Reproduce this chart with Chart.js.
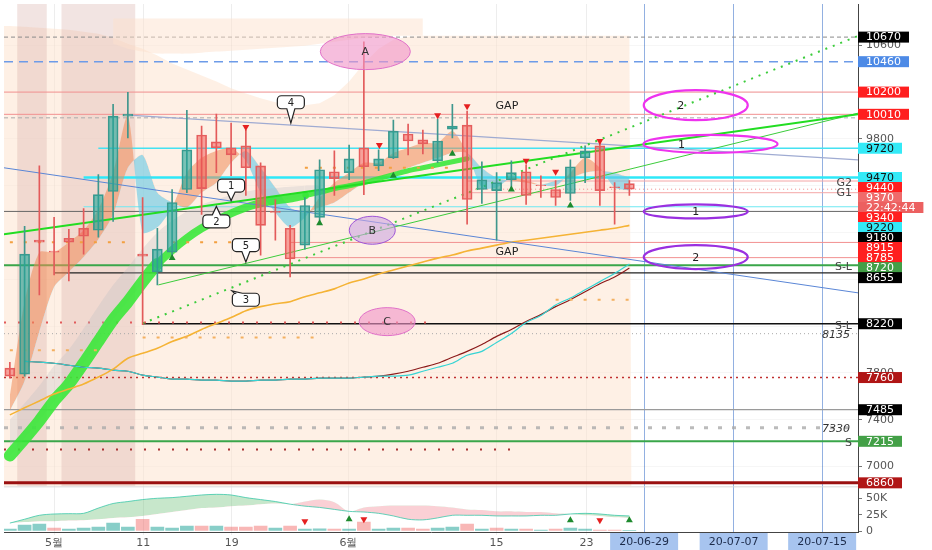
<!DOCTYPE html>
<html>
<head>
<meta charset="utf-8">
<script src="https://cdn.jsdelivr.net/npm/chart.js@4.4.0/dist/chart.umd.min.js"></script>
<style>
  html, body { margin: 0; padding: 0; background: #fff; }
  #wrap { width: 932px; height: 550px; }
</style>
</head>
<body>
<div id="wrap"><canvas id="chart" width="932" height="550"></canvas></div>
<script>
// ---- candles (one per bar, index -1 .. 41) ----
const idx    = [-1,0,1,2,3,4,5,6,7,8,9,10,11,12,13,14,15,16,17,18,19,20,21,22,23,24,25,26,27,28,29,30,31,32,33,34,35,36,37,38,39,40,41];
const opens  = [7840,7789,8934,8840,8951,9036,9019,9350,9994,8815,8663,8832,9367,9833,9774,9723,9740,9570,9180,9036,8892,9129,9519,9511,9723,9570,9638,9842,9791,9613,9884,9918,9367,9358,9451,9519,9405,9367,9333,9638,9740,9390,9417];
const highs  = [7891,9053,9570,9129,9027,9205,9494,10096,10198,9299,9036,9367,10045,9909,10011,9935,9875,9596,9282,9061,9299,9621,9697,9748,10630,9706,9960,9926,9875,9969,10096,10037,9604,9511,9613,9579,9485,9443,9621,9740,9782,9426,9443];
const lows   = [7755,7772,8467,8637,8586,8815,8959,9095,9808,8213,8552,8781,9341,9154,9511,9485,9316,8807,8934,8620,8858,9087,9316,9451,9324,9528,9630,9663,9672,9596,9808,9070,9248,8934,9384,9239,9299,9231,9273,9426,9231,9070,9316];
const closes = [7772,8815,8917,8832,8917,8968,9324,9994,10011,8798,8858,9256,9706,9375,9723,9664,9553,9061,9171,8773,9231,9536,9460,9629,9562,9629,9867,9782,9757,9782,9909,9282,9451,9426,9511,9316,9400,9299,9562,9697,9358,9384,9370];

// ---- volume pane ----
const volumes = [3000,9000,10600,4500,3000,4500,6000,12000,6000,18000,6000,4500,7500,7500,7500,6000,6000,7500,4500,7500,3000,3500,3000,3000,13500,3000,4500,4500,3000,4500,6000,10500,3000,4500,3000,3000,1500,3000,4500,3000,1500,1500,500];
const volUp   = [1,1,1,0,1,1,1,1,1,0,1,1,1,0,1,0,0,0,1,0,1,1,0,1,0,1,1,0,0,1,1,0,1,0,1,0,1,0,1,1,0,0,1];
const volFast = [12100,18000,24000,26000,26500,27000,35000,42000,45000,48000,50000,51000,53000,55000,56000,55000,51000,48000,45000,41000,38000,36000,33000,30000,29000,27000,23000,18000,17000,20000,24000,24000,24000,23000,23000,23000,24000,24000,26000,27000,26000,24000,23000];
const volSlow = [12100,13600,15000,15000,16000,16500,18000,20000,21000,23000,26000,29000,32000,35000,36000,38000,39000,41000,42000,41000,45000,48000,44000,30000,36000,38000,39000,39000,39000,38000,36000,33000,32000,30000,30000,29000,29000,27000,26000,24000,23000,21000,20000];
const volTicks = [0, 25000, 50000];

// ---- indicator lines on price ----
const emaFast = [7602,8408,8832,8832,8917,9019,9197,9511,9994,9002,9044,9214,9511,9638,9697,9723,9613,9341,9171,9044,9129,9299,9426,9511,9596,9596,9680,9723,9765,9765,9867,9680,9384,9384,9468,9443,9409,9400,9511,9638,9553,9384,9358];
const emaSlow = [7475,7730,8154,8535,8663,8790,8942,9154,9553,9663,9341,9256,9214,9341,9426,9596,9697,9553,9384,9214,9171,9214,9256,9341,9426,9468,9511,9553,9596,9638,9680,9680,9553,9468,9443,9426,9409,9443,9468,9511,9528,9511,9468];
const ribbon  = [7093,7238,7390,7560,7704,7882,8069,8255,8408,8578,8731,8849,8951,9036,9104,9163,9214,9248,9273,9290,9316,9341,9375,9400,9426,9460,9494,9528,9553,9579,9604,9630,null,null,null,null,null,null,null,null,null,null,null];
const grayTop = [7400,7540,7690,7860,8000,8180,8370,8550,8700,8860,9000,9100,9180,9240,9280,9320,9350,9370,9380,9390,9400,9400,null,null,null,null,null,null,null,null,null,null,null,null,null,null,null,null,null,null,null,null,null];
const maOrange = [7441,7501,7560,7619,7662,7704,7764,7832,7925,7967,8010,8069,8112,8171,8222,8273,8332,8366,8391,8408,8451,8484,8518,8569,8603,8646,8680,8713,8747,8781,8807,8841,8866,8892,8917,8934,8951,8968,8985,9002,9019,9036,9061];
const maRed   = [null,7899,7891,7882,7865,7848,7840,7823,7814,7781,7764,7747,7747,7738,7738,7730,7730,7738,7738,7747,7747,7755,7755,7755,7764,7772,7789,7814,7848,7882,7933,7984,8043,8112,8171,8239,8298,8366,8425,8493,8561,8620,8696];
const maCyan  = [null,7899,7891,7882,7865,7848,7840,7823,7814,7781,7764,7747,7747,7738,7738,7730,7730,7738,7738,7747,7747,7755,7755,7755,7764,7772,7772,7780,7814,7848,7882,7950,7984,8060,8137,8230,8290,8380,8440,8510,8580,8650,8730];
const peachTop = [10766,10758,10749,10741,10732,10715,10698,10664,10613,10571,10512,10444,10393,10342,10291,10232,10189,10147,10113,10088,10088,10104,10172,10291,10444,10571,10647,10673,10681,10681,10681,10681,10681,10681,10681,10681,10681,10681,10681,10681,10681,10681,10681];
const cloudTop    = [null,null,null,null,null,null,null,10830,10830,10830,10830,10830,10830,10830,10830,10830,10830,10830,10830,10830,10830,10830,10830,10830,10830,10830,10830,10830,10830,null,null,null,null,null,null,null,null,null,null,null,null,null,null];
const cloudBottom = [null,null,null,null,null,null,null,10613,10571,10546,10529,10529,10529,10537,10546,10554,10563,10571,10580,10588,10597,10614,10631,10648,10664,10673,10681,10681,10681,null,null,null,null,null,null,null,null,null,null,null,null,null,null];
const dotsUpper = [8917,8917,8917,8917,8917,8917,8917,8917,8917,null,null,8917,8917,8917,8917,8917,8917,null,null,null,9553,9553,9553,9553,9553,9553,9553,9553,9553,9553,9553,null,null,null,null,null,null,null,null,null,null,null,null];
const dotsLower = [7993,7993,7993,7993,7993,7993,7993,null,null,8103,8103,8103,8103,8103,8103,8103,8103,8103,8103,8103,8103,8103,null,null,null,null,null,null,null,null,null,null,null,null,null,null,null,8425,8425,8425,8425,8425,8425];

// ---- drawn trend lines: [index, price] end points ----
const trendThick  = [[-1.4, 8985], [56.5, 10010]];
const trendThin   = [[9.07, 8552], [56.5, 10020]];
const trendDotted = [[7.99, 8222], [56.5, 10680]];
const trendBlue   = [[-1.4, 9553], [56.5, 8484]];
const trendGray   = [[7.04, 10003], [56.5, 9621]];

// ---- price levels with axis tags ----
const blackLevels   = [10670, 9180, 8655, 8220, 7485];
const blueLevels    = [10460];
const redLevels     = [10200, 10010, 9440, 9340, 8915, 8785];
const cyanLevels    = [9720, 9470, 9220];
const greenLevels   = [8720, 7215];
const darkRedLevels = [7760, 6860];
const lastPrice = 9370;
const countdown = '22:42:44';
const noteLevels = [9980, 8135, 7330];
const noteTexts  = ['', '8135', '7330'];
const dotLevels  = [8230, 7145];
const dotEnds    = [27.6, 33];
const shadeRanges = [[-0.5, 1.5], [2.5, 7.5]];

// ---- markers ----
const redTriIdx = [15, 24.05, 28, 30, 34, 36, 39];
const redTriPrice = [9901, 9748, 10003, 10079, 9613, 9519, 9782];
const greenTriIdx = [10, 20, 25, 29, 33, 37];
const greenTriPrice = [8781, 9078, 9485, 9672, 9367, 9231];
const volRedIdx = [19, 23, 39];
const volRedVal = [15000, 18000, 16500];
const volGreenIdx = [22, 37, 41];
const volGreenVal = [18000, 16500, 16500];

// ---- annotations ----
const ellText = ['A', 'B', 'C'];
const ellIdx = [23.1, 23.57, 24.58];
const ellPrice = [10546, 9019, 8238];
const zoneText = ['2', '1', '1', '2'];
const zoneIdx = [45.5, 46.5, 45.5, 45.5];
const zonePrice = [10088, 9757, 9180, 8790];
const calloutText = ['1', '2', '3', '4', '5'];
const calloutIdx = [14.0, 13.0, 15.0, 18.05, 15.0];
const calloutPrice = [9401, 9095, 8425, 10113, 8892];
const calloutTipIdx = [14.0, 13.0, 14.05, 18.05, 15.0];
const calloutTipPrice = [9273, 9222, 8501, 9935, 8747];
const gapIdx = [32.7, 32.7];
const gapPrice = [10079, 8832];
const sideTexts = ['G2', 'G1', 'S-L', 'S-L', 'S'];
const sidePrices = [9440, 9350, 8720, 8220, 7215];

// ---- time axis ----
const xTickPos = [2, 8.05, 14.05, 21.95, 32, 38.1, 42, 48.07, 54.07];
const xTickText = ['5월', '11', '19', '6월', '15', '23', '20-06-29', '20-07-07', '20-07-15'];
const dateBoxes = 6; // ticks from here on are drawn as boxed dates

const FONT = "'DejaVu Sans', sans-serif";
const upFill = 'rgba(38,166,154,0.62)', upLine = '#3f978d';
const dnFill = 'rgba(239,83,80,0.5)', dnLine = '#e36060';

const pts = arr => idx.map((v, k) => ({ x: v, y: arr[k] }));
const isUp = idx.map((v, k) => closes[k] >= opens[k]);

const levelStyle = {
  10670: ['#8a8a8a', 1, [4, 3], null],
  10460: ['#6d9be8', 1.5, [9, 6], null],
  10200: ['#f29090', 1, [], null],
  10010: ['#f29090', 1, [], null],
  9720:  ['#44e2f2', 1.5, [], 5],
  9470:  ['#2ee8f8', 2.5, [], 4],
  9440:  ['#f4a6a6', 1, [], 30],
  9370:  ['#f08a8a', 1, [1, 3], 30],
  9340:  ['#f4a6a6', 1, [], 30],
  9220:  ['#6ee8f2', 1.2, [], 4],
  9180:  ['#666', 1, [], null],
  8915:  ['#f29090', 1, [], 18],
  8785:  ['#f29090', 1, [], 18],
  8720:  ['#3aa64a', 2, [], null],
  8655:  ['#222', 1.2, [], 2],
  8220:  ['#111', 1.5, [], 8],
  7760:  ['#c03030', 1.5, [2, 4], null],
  7485:  ['#9a9a9a', 1.2, [], null],
  7215:  ['#3aa64a', 2, [], null],
  6860:  ['#9a1010', 3, [], null],
  9980:  ['#aaa', 1, [4, 3], null],
  8135:  ['#aaa', 1, [1, 3], null],
  7330:  ['rgba(170,170,170,0.8)', 3, [4, 10], null]
};

function hline(ctx, x, y, price, style, startI, endI) {
  const [color, w, dash] = style;
  const px = y.getPixelForValue(price);
  ctx.beginPath();
  ctx.strokeStyle = color;
  ctx.lineWidth = w;
  ctx.setLineDash(dash);
  ctx.moveTo(startI == null ? x.left : x.getPixelForValue(startI), px);
  ctx.lineTo(endI == null ? x.right : x.getPixelForValue(endI), px);
  ctx.stroke();
  ctx.setLineDash([]);
}

// background: peach area, shaded sessions, horizontal levels
const backPlugin = {
  id: 'back',
  beforeDatasetsDraw(chart) {
    const { ctx, scales: { x, y } } = chart;
    ctx.save();
    ctx.beginPath();
    ctx.rect(x.left, y.top, x.right - x.left, y.bottom - y.top);
    ctx.clip();

    ctx.fillStyle = 'rgba(253,228,208,0.55)';
    ctx.beginPath();
    ctx.moveTo(x.left, y.bottom);
    ctx.lineTo(x.left, y.getPixelForValue(peachTop[0]));
    idx.forEach((v, k) => ctx.lineTo(x.getPixelForValue(v), y.getPixelForValue(peachTop[k])));
    ctx.lineTo(x.getPixelForValue(idx[idx.length - 1]) + 2, y.bottom);
    ctx.closePath();
    ctx.fill();

    ctx.fillStyle = 'rgba(214,170,165,0.32)';
    shadeRanges.forEach(([a, b]) => {
      const l = x.getPixelForValue(a), r = x.getPixelForValue(b);
      ctx.fillRect(l, y.top, r - l, y.bottom - y.top);
    });

    const all = [...blackLevels, ...blueLevels, ...redLevels, ...cyanLevels, ...greenLevels, ...darkRedLevels, lastPrice, ...noteLevels];
    all.forEach(p => {
      const s = levelStyle[p];
      if (s) hline(ctx, x, y, p, s, s[3], null);
    });
    dotLevels.forEach((p, k) => hline(ctx, x, y, p, [k ? '#a83030' : '#e25a5a', 2, [2, 12]], null, dotEnds[k]));
    ctx.restore();
  }
};

function calloutPath(ctx, l, t, w, h, r, side, bx, tx, ty) {
  ctx.beginPath();
  ctx.moveTo(l + r, t);
  if (side === 't') { ctx.lineTo(bx - 4, t); ctx.lineTo(tx, ty); ctx.lineTo(bx + 4, t); }
  ctx.lineTo(l + w - r, t); ctx.arcTo(l + w, t, l + w, t + r, r);
  ctx.lineTo(l + w, t + h - r); ctx.arcTo(l + w, t + h, l + w - r, t + h, r);
  if (side === 'b') { ctx.lineTo(bx + 4, t + h); ctx.lineTo(tx, ty); ctx.lineTo(bx - 4, t + h); }
  ctx.lineTo(l + r, t + h); ctx.arcTo(l, t + h, l, t + h - r, r);
  ctx.lineTo(l, t + r); ctx.arcTo(l, t, l + r, t, r);
  ctx.closePath();
}

// front: drawings, texts, axis tags, date boxes
const frontPlugin = {
  id: 'front',
  afterDatasetsDraw(chart) {
    const { ctx, scales: { x, y } } = chart;
    ctx.save();
    ctx.textAlign = 'center';
    ctx.textBaseline = 'middle';

    // A B C ellipses
    const ellSize = [[45, 18], [23, 14], [28, 14]];
    const ellFill = ['rgba(240,150,200,0.62)', 'rgba(205,165,225,0.6)', 'rgba(240,150,200,0.62)'];
    const ellLine = ['#e070c8', '#9d55d6', '#e070c8'];
    ellText.forEach((t, k) => {
      const cx = x.getPixelForValue(ellIdx[k]), cy = y.getPixelForValue(ellPrice[k]);
      ctx.beginPath();
      ctx.ellipse(cx, cy, ellSize[k][0], ellSize[k][1], 0, 0, Math.PI * 2);
      ctx.fillStyle = ellFill[k]; ctx.fill();
      ctx.strokeStyle = ellLine[k]; ctx.lineWidth = 1; ctx.stroke();
      ctx.fillStyle = '#333'; ctx.font = '11px ' + FONT;
      ctx.fillText(t, cx, cy + 1);
    });

    // hand drawn target zones
    const zoneSize = [[52, 15], [67, 9], [52, 7], [52, 12]];
    const zoneColor = ['#ee33ee', '#ee33ee', '#9a30e0', '#9a30e0'];
    const zoneDx = [-15, -29, 0, 0];
    zoneText.forEach((t, k) => {
      const cx = x.getPixelForValue(zoneIdx[k]), cy = y.getPixelForValue(zonePrice[k]);
      ctx.beginPath();
      ctx.ellipse(cx, cy, zoneSize[k][0], zoneSize[k][1], 0, 0, Math.PI * 2);
      ctx.strokeStyle = zoneColor[k]; ctx.lineWidth = 2.2; ctx.stroke();
      ctx.fillStyle = '#222'; ctx.font = '11px ' + FONT;
      ctx.fillText(t, cx + zoneDx[k], cy + 1);
    });

    // callouts
    calloutText.forEach((t, k) => {
      const cx = x.getPixelForValue(calloutIdx[k]), cy = y.getPixelForValue(calloutPrice[k]);
      const tx = x.getPixelForValue(calloutTipIdx[k]), ty = y.getPixelForValue(calloutTipPrice[k]);
      const w = 27, h = 13;
      const l = cx - w / 2, top = cy - h / 2;
      const side = ty < top ? 't' : 'b';
      const bx = Math.abs(tx - cx) > 6 ? l + 6 : cx;
      calloutPath(ctx, l, top, w, h, 4, side, bx, tx, ty);
      ctx.fillStyle = '#fff'; ctx.fill();
      ctx.strokeStyle = '#222'; ctx.lineWidth = 1.2; ctx.stroke();
      ctx.fillStyle = '#222'; ctx.font = '10px ' + FONT;
      ctx.fillText(t, cx, cy + 1);
    });

    // GAP
    ctx.font = '11px ' + FONT; ctx.fillStyle = '#222';
    gapIdx.forEach((v, k) => ctx.fillText('GAP', x.getPixelForValue(v), y.getPixelForValue(gapPrice[k])));

    // texts near axis
    ctx.textAlign = 'right';
    ctx.fillStyle = '#444';
    sideTexts.forEach((t, k) => ctx.fillText(t, x.right - 6, y.getPixelForValue(sidePrices[k]) + 2));
    ctx.font = 'italic 11px ' + FONT; ctx.fillStyle = '#333';
    noteLevels.forEach((p, k) => { if (noteTexts[k]) ctx.fillText(noteTexts[k], x.right - 8, y.getPixelForValue(p) + 1); });

    // separator between panes
    ctx.strokeStyle = '#d8d8d8'; ctx.lineWidth = 1;
    ctx.beginPath(); ctx.moveTo(x.left, y.bottom + 0.5); ctx.lineTo(x.right, y.bottom + 0.5); ctx.stroke();
    ctx.restore();
  },
  afterDraw(chart) {
    const { ctx, scales: { x, y } } = chart;
    ctx.save();
    ctx.font = '11px ' + FONT;
    ctx.textBaseline = 'middle';
    ctx.textAlign = 'left';

    const tags = [];
    const add = (arr, bg, fg) => arr.forEach(p => tags.push({ p, text: String(p), bg, fg }));
    add(blackLevels, '#000', '#fff');
    add(blueLevels, '#4d8ae6', '#fff');
    add(redLevels, '#ff1f1f', '#fff');
    add(cyanLevels, '#33eaf7', '#111');
    add(greenLevels, '#43a047', '#fff');
    add(darkRedLevels, '#b01515', '#fff');
    tags.push({ p: lastPrice, text: String(lastPrice), bg: '#ef6b6b', fg: '#fff' });
    tags.push({ p: lastPrice - 0.01, text: countdown, bg: '#ec6060', fg: '#fff' });
    tags.forEach(t => t.y = y.getPixelForValue(t.p));
    tags.sort((a, b) => a.y - b.y);
    let prev = -100;
    tags.forEach(t => {
      t.y = Math.max(t.y, prev + 10);
      prev = t.y;
      const w = ctx.measureText(t.text).width + 16;
      ctx.fillStyle = t.bg;
      ctx.fillRect(x.right, t.y - 5.5, w, 11);
      ctx.fillStyle = t.fg;
      ctx.fillText(t.text, x.right + 8, t.y + 0.5);
    });

    // boxed dates on time axis
    ctx.textAlign = 'center';
    for (let k = dateBoxes; k < xTickPos.length; k++) {
      const cx = x.getPixelForValue(xTickPos[k]);
      ctx.fillStyle = '#a7c4ef';
      ctx.fillRect(cx - 34, x.top + 1, 68, 17);
      ctx.fillStyle = '#1c2b4a';
      ctx.fillText(xTickText[k], cx, x.top + 10);
    }
    ctx.restore();
  }
};

const noPad = s => { s.paddingTop = 0; s.paddingBottom = 0; s.paddingLeft = 0; s.paddingRight = 0; };

const datasets = [
  { type: 'line', data: pts(cloudTop), borderWidth: 0, pointRadius: 0, tension: 0.3,
    fill: { target: '+1', above: 'rgba(253,226,206,0.5)', below: 'rgba(253,226,206,0.5)' }, order: 70 },
  { type: 'line', data: pts(cloudBottom), borderWidth: 0, pointRadius: 0, tension: 0.3, fill: false, order: 70 },
  { type: 'line', data: pts(emaFast), borderWidth: 0, pointRadius: 0, tension: 0.25,
    fill: { target: '+1', above: 'rgba(240,140,90,0.55)', below: 'rgba(100,200,230,0.6)' }, order: 60 },
  { type: 'line', data: pts(emaSlow), borderWidth: 0, pointRadius: 0, tension: 0.25, fill: false, order: 60 },
  { type: 'line', data: pts(grayTop), borderWidth: 0, pointRadius: 0, tension: 0.3,
    fill: { target: '+1', above: 'rgba(190,190,195,0.3)', below: 'rgba(190,190,195,0.3)' }, order: 58 },
  { type: 'line', data: pts(ribbon), borderColor: 'rgba(55,232,55,0.88)', pointRadius: 0, tension: 0.3,
    borderCapStyle: 'round', borderWidth: 8,
    segment: { borderWidth: c => c.p0DataIndex < 10 ? 12 : (c.p0DataIndex < 20 ? 8 : 5) }, order: 55 },
  { type: 'line', data: pts(maOrange), borderColor: '#f5b335', borderWidth: 1.6, pointRadius: 0, tension: 0.3, order: 50 },
  { type: 'line', data: pts(maCyan), borderColor: '#36d4d4', borderWidth: 1.2, pointRadius: 0, tension: 0.3, order: 50 },
  { type: 'line', data: pts(maRed), borderColor: '#8b1a1a', borderWidth: 1.2, pointRadius: 0, tension: 0.3, order: 50 },
  { type: 'line', data: pts(dotsUpper), borderColor: '#f3a040', borderWidth: 2, borderDash: [3, 11], pointRadius: 0, spanGaps: false, order: 45 },
  { type: 'line', data: pts(dotsLower), borderColor: '#f3b060', borderWidth: 2, borderDash: [3, 11], pointRadius: 0, spanGaps: false, order: 45 },
  { type: 'line', data: trendThick.map(([a, b]) => ({ x: a, y: b })), borderColor: '#22dd22', borderWidth: 2, pointRadius: 0, order: 40 },
  { type: 'line', data: trendThin.map(([a, b]) => ({ x: a, y: b })), borderColor: '#3ccc3c', borderWidth: 1, pointRadius: 0, order: 40 },
  { type: 'line', data: trendDotted.map(([a, b]) => ({ x: a, y: b })), borderColor: '#3ccc3c', borderWidth: 2, borderDash: [2, 6], pointRadius: 0, order: 40 },
  { type: 'line', data: trendBlue.map(([a, b]) => ({ x: a, y: b })), borderColor: '#5a86d6', borderWidth: 1, pointRadius: 0, order: 40 },
  { type: 'line', data: trendGray.map(([a, b]) => ({ x: a, y: b })), borderColor: '#9fabd2', borderWidth: 1.2, pointRadius: 0, order: 40 },
  { type: 'bar', data: idx.map((v, k) => ({ x: v, y: [lows[k], highs[k]] })), barThickness: 1, grouped: false,
    backgroundColor: isUp.map(u => u ? '#3f978d' : '#e35a5a'), borderWidth: 0, order: 20 },
  { type: 'bar', data: idx.map((v, k) => ({ x: v, y: [opens[k], closes[k]] })), barThickness: 10, grouped: false,
    backgroundColor: isUp.map(u => u ? upFill : dnFill), borderColor: isUp.map(u => u ? upLine : dnLine),
    borderWidth: 1, borderSkipped: false, order: 10 },
  { type: 'scatter', data: redTriIdx.map((v, k) => ({ x: v, y: redTriPrice[k] })), pointStyle: 'triangle', rotation: 180,
    radius: 4, backgroundColor: '#e52020', borderWidth: 0, order: 5 },
  { type: 'scatter', data: greenTriIdx.map((v, k) => ({ x: v, y: greenTriPrice[k] })), pointStyle: 'triangle',
    radius: 4, backgroundColor: '#1e8a2e', borderWidth: 0, order: 5 },
  // volume pane
  { type: 'line', yAxisID: 'yv', data: pts(volFast), borderColor: 'rgba(60,200,170,0.8)', borderWidth: 1, pointRadius: 0, tension: 0.3,
    fill: { target: '+1', above: 'rgba(95,185,105,0.35)', below: 'rgba(240,120,135,0.35)' }, order: 30 },
  { type: 'line', yAxisID: 'yv', data: pts(volSlow), borderWidth: 0, pointRadius: 0, tension: 0.3, fill: false, order: 30 },
  { type: 'bar', yAxisID: 'yv', data: idx.map((v, k) => ({ x: v, y: volumes[k] })), barThickness: 13, grouped: false,
    backgroundColor: volUp.map(u => u ? 'rgba(38,166,154,0.55)' : 'rgba(239,83,80,0.42)'), order: 25 },
  { type: 'scatter', yAxisID: 'yv', data: volRedIdx.map((v, k) => ({ x: v, y: volRedVal[k] })), pointStyle: 'triangle', rotation: 180,
    radius: 4, backgroundColor: '#e52020', borderWidth: 0, order: 5 },
  { type: 'scatter', yAxisID: 'yv', data: volGreenIdx.map((v, k) => ({ x: v, y: volGreenVal[k] })), pointStyle: 'triangle',
    radius: 4, backgroundColor: '#1e8a2e', borderWidth: 0, order: 5 }
];

new Chart(document.getElementById('chart'), {
  type: 'line',
  data: { datasets },
  options: {
    responsive: false,
    animation: false,
    layout: { padding: 0 },
    font: { family: FONT },
    plugins: { legend: { display: false }, tooltip: { enabled: false } },
    scales: {
      x: {
        type: 'linear', min: -1.397, max: 56.5, offset: false,
        afterBuildTicks: s => { s.ticks = xTickPos.map(v => ({ value: v })); },
        afterFit: s => { s.height = 18; noPad(s); },
        ticks: { autoSkip: false, maxRotation: 0, padding: 2, color: '#555', font: { family: FONT, size: 11 },
          callback: (v, i) => i < dateBoxes ? xTickText[i] : '' },
        grid: { offset: false, tickLength: 3, color: c => c.index >= dateBoxes ? 'rgba(110,150,215,0.75)' : 'rgba(0,0,0,0.07)' },
        border: { color: '#444' }
      },
      y: {
        position: 'right', stack: 'pane', stackWeight: 486, min: 6830, max: 10953,
        afterFit: s => { s.width = 74; noPad(s); },
        ticks: { stepSize: 200, includeBounds: false, padding: 4, color: '#555', font: { family: FONT, size: 11 },
          callback: v => String(v) },
        grid: { color: 'rgba(0,0,0,0.035)', tickLength: 4, tickColor: '#777' },
        border: { color: '#444' }
      },
      yv: {
        position: 'right', stack: 'pane', stackWeight: 46, min: -1500, max: 68200,
        afterBuildTicks: s => { s.ticks = volTicks.map(v => ({ value: v })); },
        afterFit: s => { s.width = 74; noPad(s); },
        ticks: { autoSkip: false, padding: 4, color: '#555', font: { family: FONT, size: 11 },
          callback: v => v === 0 ? '0' : (v / 1000) + 'K' },
        grid: { display: true, drawOnChartArea: false, tickLength: 4, tickColor: '#777' },
        border: { color: '#444' }
      }
    }
  },
  plugins: [backPlugin, frontPlugin]
});
</script>
</body>
</html>
